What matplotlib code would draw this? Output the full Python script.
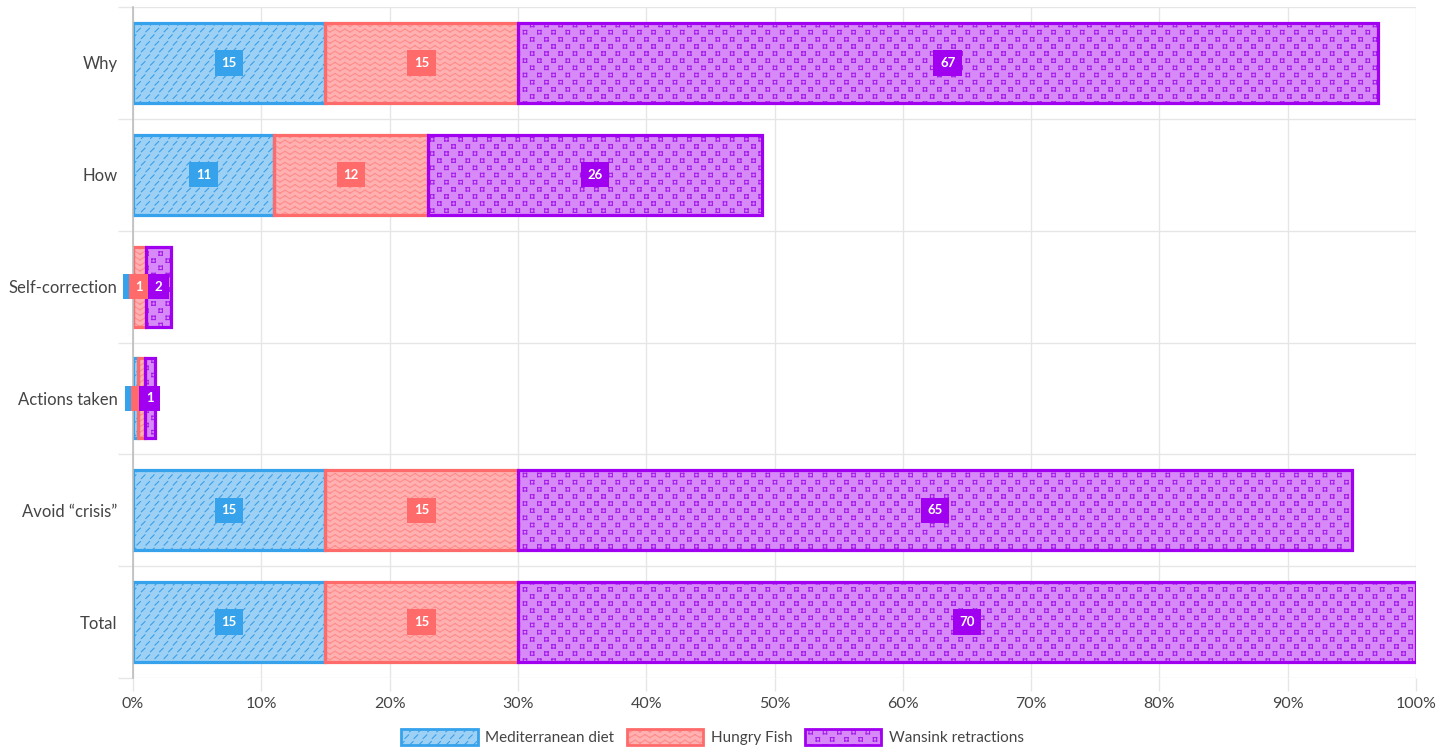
import numpy as np
import matplotlib
matplotlib.use("Agg")
import matplotlib.pyplot as plt
import matplotlib.hatch as mhatch
from matplotlib.path import Path
from matplotlib.patches import Rectangle
from matplotlib.legend_handler import HandlerTuple

# ---------------- data ----------------
categories = ["Why", "How", "Self-correction", "Actions taken", "Avoid \u201ccrisis\u201d", "Total"]
series_names = ["Mediterranean diet", "Hungry Fish", "Wansink retractions"]
mediterranean = [15, 11, 0, 0.4, 15, 15]
hungry_fish = [15, 12, 1, 0.5, 15, 15]
wansink = [67, 26, 2, 0.8, 65, 70]
mediterranean_labels = ["15", "11", "0", "1", "15", "15"]
hungry_fish_labels = ["15", "12", "1", "1", "15", "15"]
wansink_labels = ["67", "26", "2", "1", "65", "70"]
x_ticks = list(range(0, 101, 10))
x_tick_labels = [f"{v}%" for v in x_ticks]

# ---------------- custom hatch patterns ----------------
def _segs(vertices, codes, segs):
    for i, (p0, p1) in enumerate(segs):
        vertices[2 * i] = p0
        vertices[2 * i + 1] = p1
        codes[2 * i] = Path.MOVETO
        codes[2 * i + 1] = Path.LINETO


class ZigZag(mhatch.HatchPatternBase):  # '*'
    def __init__(self, hatch, density):
        self.n = 1 if '*' in hatch else 0
        self.rows, self.per = 18, 10
        self.num_vertices = self.n * self.rows * self.per * 2 * 2

    def set_vertices_and_codes(self, vertices, codes):
        segs = []
        a = 0.015
        for i in range(self.rows):
            y0 = (i + 0.5) / self.rows
            xs = np.linspace(0, 1, 2 * self.per + 1)
            ys = [y0 + (a if k % 2 else -a) for k in range(len(xs))]
            for k in range(len(xs) - 1):
                segs.append(((xs[k], ys[k]), (xs[k + 1], ys[k + 1])))
        _segs(vertices, codes, segs)


class Squares(mhatch.HatchPatternBase):  # 'O'
    def __init__(self, hatch, density):
        self.n = 1 if 'O' in hatch else 0
        self.rows, self.cols = 14, 7
        self.num_vertices = self.n * self.rows * self.cols * 4 * 2

    def set_vertices_and_codes(self, vertices, codes):
        segs = []
        s = 0.017
        for i in range(self.rows):
            y = (i + 0.5) / self.rows
            for j in range(self.cols):
                x = (j + 0.25 + 0.5 * (i % 2)) / self.cols
                c = [(x - s, y - s), (x + s, y - s), (x + s, y + s), (x - s, y + s)]
                for k in range(4):
                    segs.append((c[k], c[(k + 1) % 4]))
        _segs(vertices, codes, segs)


class Dashes(mhatch.HatchPatternBase):  # '.'
    def __init__(self, hatch, density):
        self.n = 1 if '.' in hatch else 0
        self.rows, self.cols = 15, 11
        self.num_vertices = self.n * self.rows * self.cols * 2

    def set_vertices_and_codes(self, vertices, codes):
        segs = []
        d = 0.018
        for i in range(self.rows):
            y = (i + 0.5) / self.rows
            for j in range(self.cols):
                x = (j + 0.25 + 0.5 * (i % 2)) / self.cols
                segs.append(((x - d, y - d), (x + d, y + d)))
        _segs(vertices, codes, segs)


mhatch._hatch_types = [mhatch.HorizontalHatch, mhatch.VerticalHatch,
                       mhatch.NorthEastHatch, mhatch.SouthEastHatch,
                       mhatch.SmallCircles, ZigZag, Squares, Dashes]

# ---------------- style ----------------
plt.rcParams['font.family'] = ['Lato', 'DejaVu Sans']
plt.rcParams['hatch.linewidth'] = 0.8

edge_colors = ["#36A2EB", "#FF6B6B", "#A100F0"]
face_colors = ["#9DD0F5", "#FFB0B0", "#D78AF7"]
hatch_colors = ["#3A9FE8", "#FF8C8C", "#A41DEB"]
hatches = [".", "*", "O"]
text_color = "#444444"
grid_color = "#E6E6E6"

fig = plt.figure(figsize=(14.54, 7.52), dpi=100)
ax = fig.add_axes([133 / 1454, 1 - 678 / 752, (1416 - 133) / 1454, (678 - 7) / 752])

y = np.arange(len(categories))
bar_h = 0.715
series = [mediterranean, hungry_fish, wansink]
labels = [mediterranean_labels, hungry_fish_labels, wansink_labels]

left = np.zeros(len(categories))
label_items = []
for s, vals in enumerate(series):
    vals = np.array(vals, dtype=float)
    ax.barh(y, vals, left=left, height=bar_h, color=face_colors[s],
            edgecolor='none', linewidth=0, zorder=2)
    ax.barh(y, vals, left=left, height=bar_h, color='none',
            edgecolor=hatch_colors[s], hatch=hatches[s], linewidth=0, zorder=3)
    ax.barh(y, vals, left=left, height=bar_h, color='none',
            edgecolor=edge_colors[s], linewidth=2.3, zorder=4)
    for i in range(len(categories)):
        label_items.append((left[i] + vals[i] / 2, y[i], labels[s][i], edge_colors[s]))
    left = left + vals

for xc, yc, txt, col in label_items:
    ax.text(xc, yc, txt, ha='center', va='center', color='white',
            fontsize=9.5, fontweight='bold', zorder=10, clip_on=False,
            bbox=dict(boxstyle='square,pad=0.5', fc=col, ec='none'))

ax.set_xlim(0, 100)
ax.set_ylim(len(categories) - 0.5, -0.5)
ax.set_xticks(x_ticks)
ax.set_xticklabels(x_tick_labels)
ax.set_yticks(y)
ax.set_yticklabels(categories)
ax.set_yticks(np.arange(-0.5, len(categories)), minor=True)

ax.tick_params(axis='y', which='major', length=0, pad=11, labelsize=12, labelcolor=text_color)
ax.tick_params(axis='y', which='minor', length=11, color=grid_color, width=1)
ax.tick_params(axis='x', which='major', length=9, color=grid_color, width=1,
               pad=5, labelsize=11.5, labelcolor=text_color)

ax.grid(True, axis='x', which='major', color=grid_color, linewidth=1, zorder=0)
ax.grid(True, axis='y', which='minor', color=grid_color, linewidth=1, zorder=0)
ax.grid(False, axis='y', which='major')
ax.set_axisbelow(True)

for side in ['top', 'right', 'bottom']:
    ax.spines[side].set_visible(False)
ax.spines['left'].set_color('#BDBDBD')
ax.spines['left'].set_linewidth(1.2)
ax.spines['left'].set_zorder(5)

# legend
handles = []
for s in range(3):
    p1 = Rectangle((0, 0), 1, 1, facecolor=face_colors[s], edgecolor='none', linewidth=0)
    p2 = Rectangle((0, 0), 1, 1, facecolor='none', edgecolor=hatch_colors[s], hatch=hatches[s], linewidth=0)
    p3 = Rectangle((0, 0), 1, 1, facecolor='none', edgecolor=edge_colors[s], linewidth=2.0)
    handles.append((p1, p2, p3))
fig.legend(handles, series_names, loc='center', bbox_to_anchor=(0.49, 0.02),
           ncol=3, frameon=False, fontsize=11, labelcolor=text_color,
           handlelength=5.0, handleheight=1.3, handletextpad=0.5, columnspacing=0.8,
           handler_map={tuple: HandlerTuple(ndivide=1, pad=0)})

fig.savefig("out.png", dpi=100)
